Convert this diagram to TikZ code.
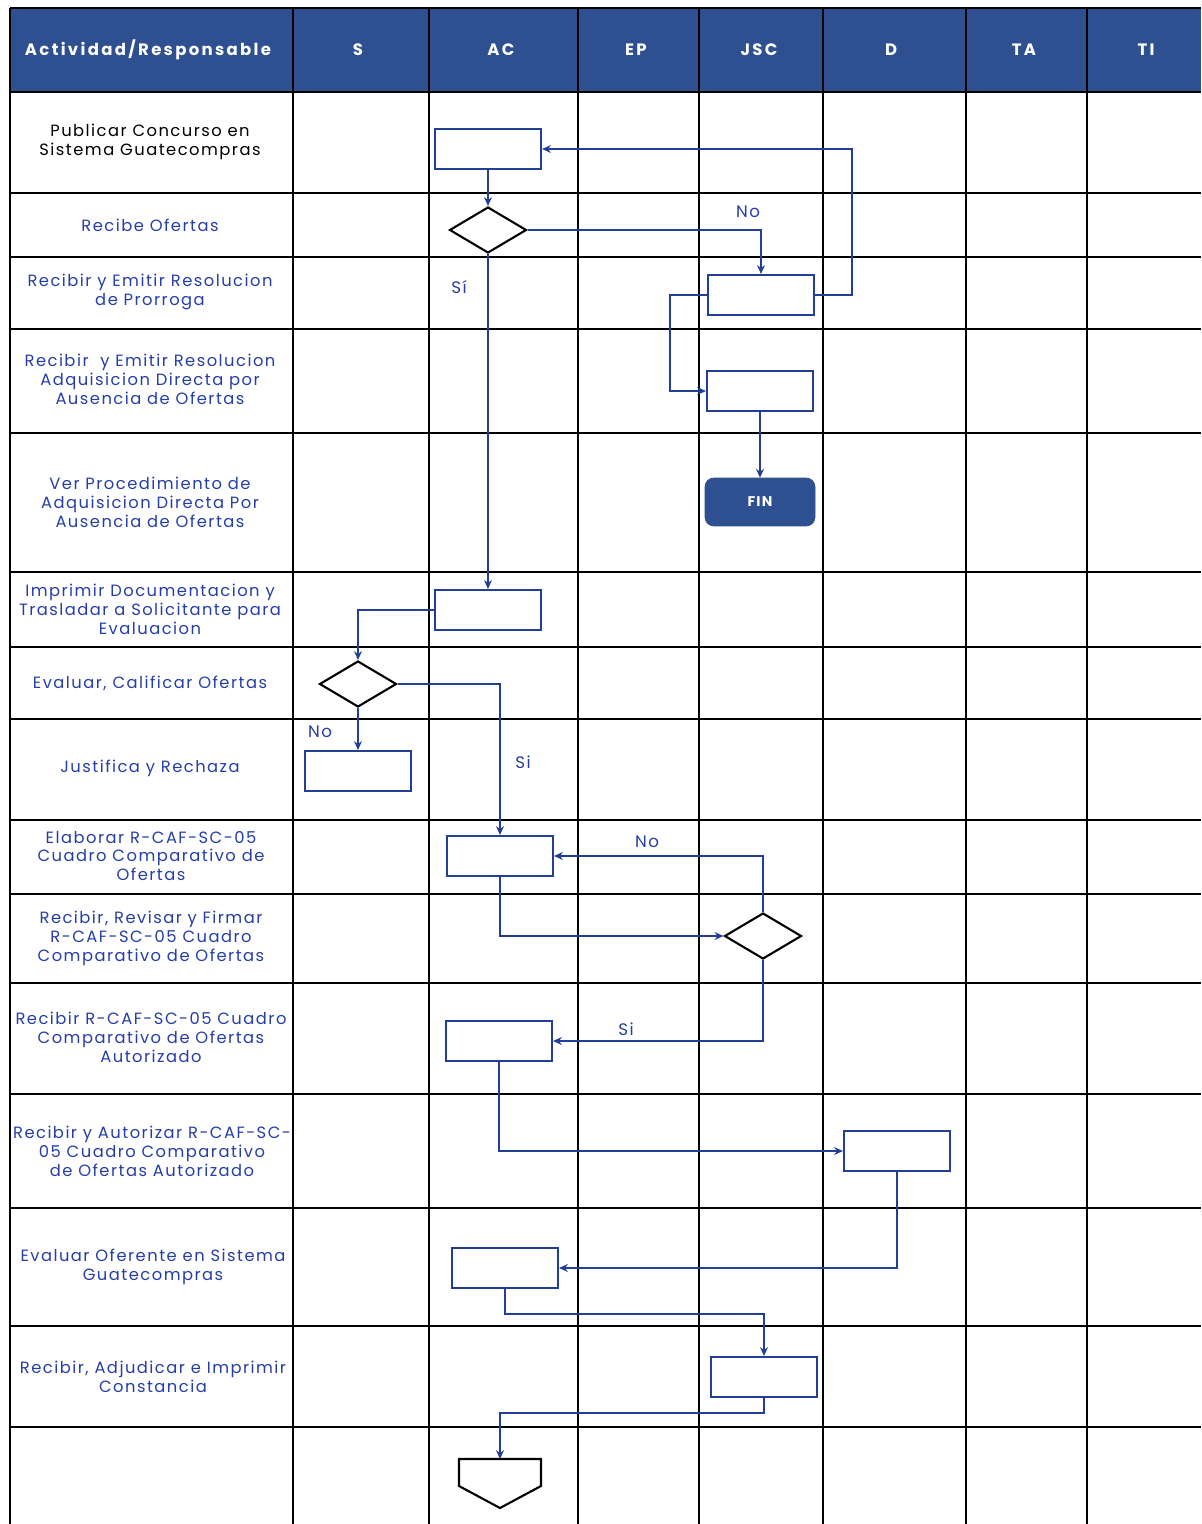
\documentclass[tikz,border=0pt]{standalone}
\usepackage{fontspec}
\setmainfont{Poppins}[LetterSpace=9]
\usetikzlibrary{shapes.geometric,arrows.meta}

\definecolor{azulcab}{RGB}{46,80,144}
\definecolor{azultxt}{RGB}{38,62,168}
\definecolor{azullin}{RGB}{35,62,150}

\tikzset{
	caja/.style={draw=azullin, line width=1.2pt, fill=white, minimum width=2.12cm, minimum height=0.8cm, inner sep=0pt},
	decision/.style={diamond, draw=black, line width=1.2pt, fill=white, minimum width=1.54cm, minimum height=0.92cm, inner sep=0pt},
	flecha/.style={draw=azullin, line width=0.9pt, -{Stealth[length=5pt,width=4.5pt]}},
	actividad/.style={align=center, text=azultxt, font=\fontsize{9.3}{10.8}\selectfont},
	cabecera/.style={text=white, font=\bfseries\fontsize{9.4}{11}\selectfont\addfontfeatures{LetterSpace=14}},
	rotulo/.style={text=azultxt, font=\fontsize{9.5}{11}\selectfont}
}

\begin{document}
\begin{tikzpicture}[x=0.02cm, y=-0.02cm]
		\useasboundingbox (0,0) rectangle (1201,1524);
		%cabecera
		\fill[azulcab] (10,8) rectangle (1201,92);
		\foreach \y in {8,92,193,257,329,433,572,647,719,820,894,983,1094,1208,1326,1427}
			\draw[line width=1.6pt] (10,\y)--(1201,\y);
		\foreach \x in {10,293,429,578,699,823,966,1087}
			\draw[line width=1.6pt] (\x,8)--(\x,1524);
		\node[cabecera] (hact) at (148,50) {Actividad/Responsable};
		\node[cabecera] (hs) at (358,50) {S};
		\node[cabecera] (hac) at (501,50) {AC};
		\node[cabecera] (hep) at (636,50) {EP};
		\node[cabecera] (hjsc) at (759,50) {JSC};
		\node[cabecera] (hd) at (891,50) {D};
		\node[cabecera] (hta) at (1024,50) {TA};
		\node[cabecera] (hti) at (1146,50) {TI};
		%actividades
		\node[actividad, text=black] (act1) at (150,142) {Publicar Concurso en\\Sistema Guatecompras};
		\node[actividad] (act2) at (150,225) {Recibe Ofertas};
		\node[actividad] (act3) at (150,292) {Recibir y Emitir Resolucion\\de Prorroga};
		\node[actividad] (act4) at (150,379) {Recibir \ y Emitir Resolucion\\Adquisicion Directa por\\Ausencia de Ofertas};
		\node[actividad] (act5) at (150,502) {Ver Procedimiento de\\Adquisicion Directa Por\\Ausencia de Ofertas};
		\node[actividad] (act6) at (150,609) {Imprimir Documentacion y\\Trasladar a Solicitante para\\Evaluacion};
		\node[actividad] (act7) at (150,683) {Evaluar, Calificar Ofertas};
		\node[actividad] (act8) at (150,768) {Justifica y Rechaza};
		\node[actividad] (act9) at (151,856) {Elaborar R-CAF-SC-05\\Cuadro Comparativo de\\Ofertas};
		\node[actividad] (act10) at (151,938) {Recibir, Revisar y Firmar\\R-CAF-SC-05 Cuadro\\Comparativo de Ofertas};
		\node[actividad] (act11) at (151,1037) {Recibir R-CAF-SC-05 Cuadro\\Comparativo de Ofertas\\Autorizado};
		\node[actividad] (act12) at (152,1151) {Recibir y Autorizar R-CAF-SC-\\05 Cuadro Comparativo\\de Ofertas Autorizado};
		\node[actividad] (act13) at (153,1267) {Evaluar Oferente en Sistema\\Guatecompras};
		\node[actividad] (act14) at (153,1377) {Recibir, Adjudicar e Imprimir\\Constancia};
		%cajas
		\node[caja] (pub) at (488,149) {};
		\node[decision] (recibe) at (488,230) {};
		\node[caja] (prorroga) at (761,295) {};
		\node[caja] (adqdir) at (760,391) {};
		\node[draw=azulcab, fill=azulcab, rounded corners=5pt, minimum width=2.2cm, minimum height=0.96cm, text=white, font=\bfseries\fontsize{8}{10}\selectfont] (fin) at (760,502) {FIN};
		\node[caja] (imprimir) at (488,610) {};
		\node[decision] (evaluar) at (358,684) {};
		\node[caja] (rechaza) at (358,771) {};
		\node[caja] (elaborar) at (500,856) {};
		\node[decision] (firmar) at (763,936) {};
		\node[caja] (recibircc) at (499,1041) {};
		\node[caja] (autorizar) at (897,1151) {};
		\node[caja] (oferente) at (505,1268) {};
		\node[caja] (adjudicar) at (764,1377) {};
		%conector fuera de pagina
		\draw[line width=1.2pt] (459,1459)--(541,1459)--(541,1486)--(500,1508)--(459,1486)--cycle;
		\coordinate (conector) at (500,1459);
		%flechas
		\draw[flecha] (pub.south)--(recibe.north);
		\draw[flecha] (recibe.east) -| (prorroga.north);
		\draw[flecha] (recibe.south)--(imprimir.north);
		\draw[flecha] (prorroga.east) -- ++(37,0) |- (pub.east);
		\draw[flecha] (prorroga.west) -- ++(-37,0) |- (adqdir.west);
		\draw[flecha] (adqdir.south)--(fin.north);
		\draw[flecha] (imprimir.west) -| (evaluar.north);
		\draw[flecha] (evaluar.south)--(rechaza.north);
		\draw[flecha] (evaluar.east) -| (elaborar.north);
		\draw[flecha] (elaborar.south) |- (firmar.west);
		\draw[flecha] (firmar.north) |- (elaborar.east);
		\draw[flecha] (firmar.south) |- (recibircc.east);
		\draw[flecha] (recibircc.south) |- (autorizar.west);
		\draw[flecha] (autorizar.south) |- (oferente.east);
		\draw[flecha] (oferente.south) -- ++(0,25) -| (adjudicar.north);
		\draw[flecha] (adjudicar.south) -- ++(0,15) -| (conector);
		%rotulos
		\node[rotulo] (no1) at (748,212) {No};
		\node[rotulo] (si1) at (459,287) {Sí};
		\node[rotulo] (no2) at (320,732) {No};
		\node[rotulo] (si2) at (523,762) {Si};
		\node[rotulo] (no3) at (647,842) {No};
		\node[rotulo] (si3) at (626,1029) {Si};
	\end{tikzpicture}
\end{document}
